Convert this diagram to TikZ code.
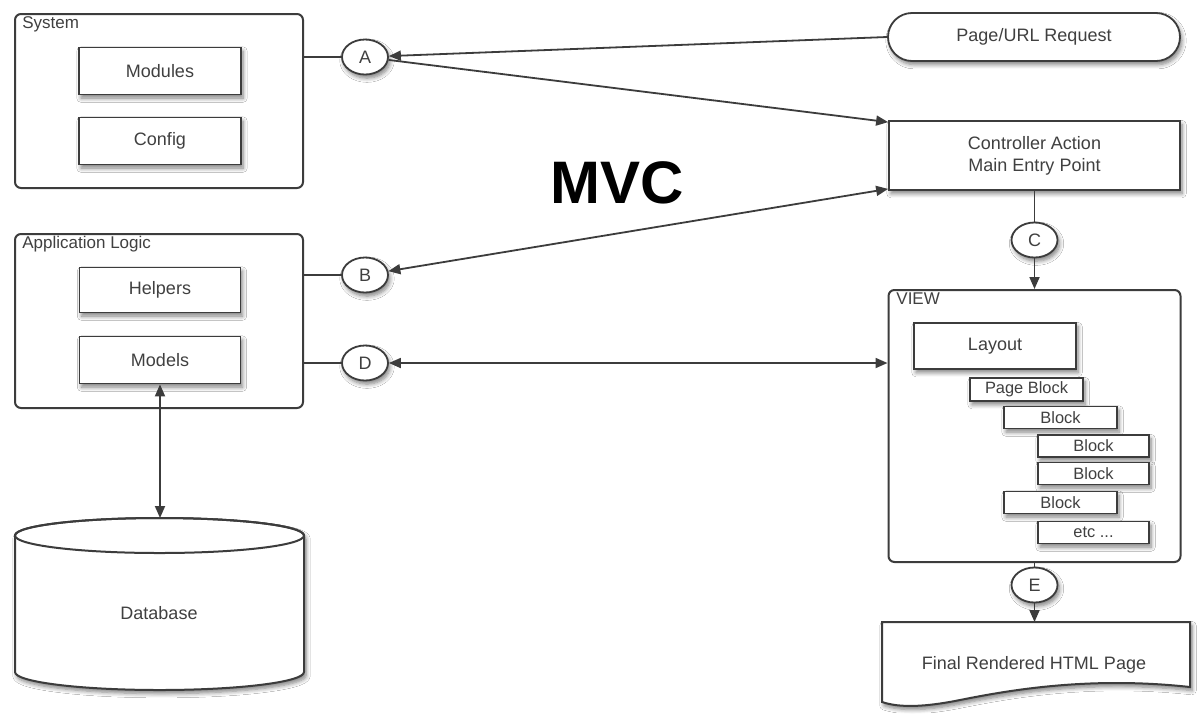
\documentclass[tikz,border=0pt]{standalone}
\usepackage{fontspec}
\setmainfont{Liberation Sans}
\usetikzlibrary{arrows.meta,shapes.geometric,shadows.blur}
\definecolor{ink}{HTML}{3c3c3c}
\definecolor{txt}{HTML}{404040}
\tikzset{
  x=0.5pt, y=-0.5pt,
  every node/.style={text=txt, font=\fontsize{9}{11}\selectfont},
  shade/.style={blur shadow={shadow xshift=1pt, shadow yshift=-1.8pt, shadow blur steps=6, shadow opacity=50}},
  container/.style={draw=ink, line width=1pt, fill=white, rounded corners=3pt, inner sep=0pt},
  box/.style={draw=ink, line width=0.9pt, fill=white, inner sep=0pt, shade},
  blk/.style={box, minimum height=11pt, font=\fontsize{8.2}{10}\selectfont},
  letter/.style={draw=ink, line width=0.9pt, fill=white, ellipse, inner sep=0pt,
    minimum width=23pt, minimum height=17.5pt, shade},
  tag/.style={anchor=north west, inner sep=0pt, font=\fontsize{8.5}{10}\selectfont},
  wire/.style={draw=ink, line width=0.9pt},
  tip/.style={wire, -{Triangle[length=6pt,width=5pt]}},
  tips/.style={wire, {Triangle[length=6pt,width=5pt]}-{Triangle[length=6pt,width=5pt]}}
}
\begin{document}
\begin{tikzpicture}
\useasboundingbox[fill=white] (0,0) rectangle (1197,713);

% System container
\node[container, minimum width=144pt, minimum height=87pt] (sys) at (159,101) {};
\node[tag] (systag) at (22,16) {System};
\node[box, minimum width=81pt, minimum height=23.5pt] (modules) at (160,71) {Modules};
\node[box, minimum width=81pt, minimum height=23.5pt] (config) at (160,141) {Config};

% Application logic container
\node[container, minimum width=144pt, minimum height=87pt] (app) at (159,321) {};
\node[tag] (apptag) at (22,236) {Application Logic};
\node[box, minimum width=80.5pt, minimum height=22.5pt] (helpers) at (160,290) {Helpers};
\node[box, minimum width=80.5pt, minimum height=23.5pt] (models) at (160,360) {Models};

% Database cylinder
\draw[draw=ink, line width=1pt, fill=white, shade]
  (15,535.5) -- (15,672) arc[start angle=180, end angle=360, x radius=72.25pt, y radius=9pt] -- (304,535.5)
  arc[start angle=0, end angle=180, x radius=72.25pt, y radius=8.75pt] -- cycle;
\draw[draw=ink, line width=1pt] (159.5,535.5) ellipse[x radius=72.25pt, y radius=8.75pt];
\coordinate (dbtop) at (160,518);
\node (db) at (159,613) {Database};

% Letter markers
\node[letter] (A) at (365,57) {A};
\node[letter] (B) at (365,275) {B};
\node[letter] (D) at (365,363) {D};
\node[letter] (C) at (1034.5,240) {C};
\node[letter] (E) at (1034.5,585) {E};

% Request and controller
\node[box, rounded corners=12pt, minimum width=146pt, minimum height=24pt] (page) at (1034,37) {Page/URL Request};
\node[box, minimum width=145.5pt, minimum height=34.5pt, align=center] (ctrl) at (1034.5,155.5)
  {Controller Action\\Main Entry Point};

% View container
\node[container, minimum width=146pt, minimum height=136pt] (view) at (1034.5,426) {};
\node[tag] (viewtag) at (896,292) {VIEW};
\node[box, minimum width=81pt, minimum height=23pt] (layout) at (995,346) {Layout};
\node[blk, minimum width=56.5pt, minimum height=11.5pt] (pblock) at (1026.5,389.5) {Page Block};
\node[blk, minimum width=56.5pt] (blk1) at (1060.5,417.5) {Block};
\node[blk, minimum width=55.5pt] (blk2) at (1093.5,446) {Block};
\node[blk, minimum width=55.5pt] (blk3) at (1093.5,473.5) {Block};
\node[blk, minimum width=56.5pt] (blk4) at (1060.5,502.5) {Block};
\node[blk, minimum width=55.5pt] (etc) at (1093.5,532.5) {etc ...};

% Final page (document shape)
\draw[draw=ink, line width=1pt, fill=white, shade]
  (882,622) -- (1190,622) -- (1190,687)
  .. controls (1090,676) and (1010,690) .. (960,700)
  .. controls (925,707) and (900,708) .. (882,702) -- cycle;
\coordinate (finaltop) at (1034.5,622);
\node (final) at (1034,665) {Final Rendered HTML Page};

% Title
\node[text=black, font=\fontsize{30}{34}\bfseries\selectfont] (mvc) at (617,183) {MVC};

% Connectors
\draw[wire] (sys.east |- A) -- (A);
\draw[wire] (app.east |- B) -- (B);
\draw[wire] (app.east |- D) -- (D);
\draw[tip] (page.west) -- (A);
\draw[tip] (A) -- ([yshift=-1pt]ctrl.north west);
\draw[tips] (B) -- ([yshift=1pt]ctrl.south west);
\draw[tips] (D) -- (D -| view.west);
\draw[tips] (models.south) -- (dbtop);
\draw[wire] (ctrl.south) -- (C);
\draw[tip] (C) -- (view.north);
\draw[wire] (view.south) -- (E);
\draw[tip] (E) -- (finaltop);
\end{tikzpicture}
\end{document}
